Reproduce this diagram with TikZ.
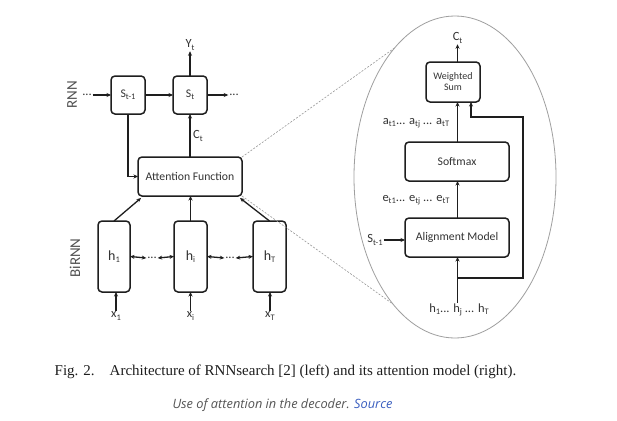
\documentclass[tikz,border=0pt]{standalone}
\usepackage{fontspec}
\usetikzlibrary{shapes.geometric,arrows.meta}
\newfontfamily\diag{Carlito}
\newfontfamily\capfont{Liberation Serif}
\newfontfamily\srcfont{Open Sans}
\newcommand\sbs[1]{\raisebox{-0.4ex}{\fontsize{8.5}{9}\selectfont #1}}
\definecolor{ink}{HTML}{1E1E1E}
\definecolor{txt}{HTML}{333333}
\definecolor{srcgray}{HTML}{555555}
\definecolor{srcblue}{HTML}{3B5FC0}
\tikzset{
  box/.style={draw=ink, line width=1.5pt, rounded corners=4pt, inner sep=0pt, outer sep=0pt, font=\diag\fontsize{11.7}{13}\selectfont, text=txt, align=center},
  lbl/.style={inner sep=0pt, outer sep=1pt, font=\diag\fontsize{12.5}{13}\selectfont, text=txt},
  side/.style={inner sep=0pt, font=\diag\fontsize{15}{16}\selectfont, text=txt!85, rotate=90},
  arr/.style={draw=ink, line width=1.3pt, -{Stealth[length=4.5pt,width=4pt]}},
  darr/.style={draw=ink, line width=1.3pt, {Stealth[length=4.5pt,width=4pt]}-{Stealth[length=4.5pt,width=4pt]}},
  zoomdash/.style={draw=gray!80, line width=0.6pt, dash pattern=on 2pt off 1.5pt},
}
\begin{document}
\begin{tikzpicture}[x=1pt,y=-1pt]
\useasboundingbox (0,0) rectangle (617,420);
\fill[white] (0,0) rectangle (617,420);

% ---------- left: RNNsearch ----------
\node[side] (rnn) at (72,95) {RNN};
\node[side] (birnn) at (75,258) {BiRNN};

\node[box, minimum width=34, minimum height=38] (s1) at (128,95) {S\sbs{t-1}};
\node[box, minimum width=34, minimum height=38] (s2) at (190,95) {S\sbs{t}};
\node[lbl] (dl) at (87,95) {...};
\node[lbl] (dr) at (234,95) {...};
\node[lbl] (yt) at (190,45) {Y\sbs{t}};
\node[lbl] (ctl) at (198,136) {C\sbs{t}};

\node[box, minimum width=104, minimum height=39] (att) at (190,176.5) {Attention Function};

\node[box, minimum width=32, minimum height=71, font=\diag\fontsize{14}{15}\selectfont] (h1) at (114,256.5) {h\sbs{1}};
\node[box, minimum width=33, minimum height=71, font=\diag\fontsize{14}{15}\selectfont] (hi) at (190.5,256.5) {h\sbs{i}};
\node[box, minimum width=33, minimum height=71, font=\diag\fontsize{14}{15}\selectfont] (hT) at (269.5,256.5) {h\sbs{T}};
\node[lbl] (d1) at (152,258) {...};
\node[lbl] (d2) at (230,258) {...};

\node[lbl] (x1) at (116,316) {x\sbs{1}};
\node[lbl] (xi) at (190.5,316) {x\sbs{i}};
\node[lbl] (xT) at (270,316) {x\sbs{T}};

\draw[arr] (dl) -- (s1);
\draw[arr] (s1) -- (s2);
\draw[arr] (s2) -- (dr);
\draw[arr] (s2.north) -- (yt.south);
\draw[arr] (att.north) -- (s2.south);
\draw[arr] (s1.south) |- (att.west);

\draw[arr] (h1.north) -- ([xshift=3pt,yshift=-2pt]att.south west);
\draw[arr] (hi.north) -- (hi.north |- att.south);
\draw[arr] (hT.north) -- ([xshift=-2pt,yshift=-2pt]att.south east);

\draw[darr] (h1.east) -- (d1.west);
\draw[darr] (d1.east) -- (hi.west);
\draw[darr] (hi.east) -- (d2.west);
\draw[darr] (d2.east) -- (hT.west);

\draw[arr] (x1.north) -- (x1.north |- h1.south);
\draw[arr] (xi.north) -- (xi.north |- hi.south);
\draw[arr] (xT.north) -- (xT.north |- hT.south);

% ---------- right: attention model ----------
\node[ellipse, draw=gray!75, line width=0.8pt, minimum width=202, minimum height=322, inner sep=0pt, outer sep=0pt] (zoom) at (455,177) {};
\draw[zoomdash] (att.north east) -- (zoom.115);
\draw[zoomdash] (att.south east) -- (zoom.244);

\node[box, minimum width=54, minimum height=40, font=\diag\fontsize{10}{11}\selectfont] (ws) at (453,82) {Weighted\\[0pt]Sum};
\node[box, minimum width=104, minimum height=39] (sm) at (457,161.5) {Softmax};
\node[box, minimum width=104, minimum height=39] (al) at (457,237.5) {Alignment Model};

\node[lbl] (ct) at (457.5,38) {C\sbs{t}};
\node[lbl] (alab) at (416,123) {a\sbs{t1}... a\sbs{tj} ... a\sbs{tT}};
\node[lbl] (elab) at (416,200) {e\sbs{t1}... e\sbs{tj} ... e\sbs{tT}};
\node[lbl] (st1) at (375,240) {S\sbs{t-1}};
\node[lbl] (hlab) at (459,310) {h\sbs{1}... h\sbs{j} ... h\sbs{T}};

\coordinate (br) at (457.5,278);
\coordinate (fb1) at (523,278);
\coordinate (fb2) at (523,117);
\coordinate (fb3) at (471,117);

\draw[arr] ([xshift=0.5pt]ws.north -| sm.north) -- (ct.south);
\draw[arr] ([xshift=0.5pt]sm.north) -- ([xshift=0.5pt]sm.north |- ws.south);
\draw[arr] ([xshift=0.5pt]al.north) -- ([xshift=0.5pt]sm.south);
\draw[arr] (st1.east) -- (st1.east -| al.west);
\draw[arr] (br |- hlab.north) -- (br |- al.south);
\draw[arr] (br) -- (fb1) -- (fb2) -- (fb3) -- (fb3 |- ws.south);

% ---------- captions ----------
\node[inner sep=0pt, font=\capfont\fontsize{15}{17}\selectfont, text=ink] (cap) at (285.5,372)
  {Fig. 2.\quad Architecture of RNNsearch [2] (left) and its attention model (right).};
\node[inner sep=0pt, font=\srcfont\itshape\fontsize{12.8}{14}\selectfont, text=srcgray] (src) at (282.5,405)
  {Use of attention in the decoder. \textcolor{srcblue}{Source}};
\end{tikzpicture}
\end{document}
